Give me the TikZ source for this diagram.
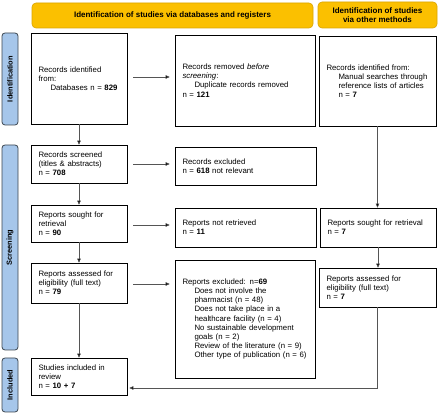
\documentclass[tikz,border=0pt]{standalone}
\usepackage{fontspec}
\setmainfont{Liberation Sans}
\usetikzlibrary{arrows.meta}
\definecolor{hdr}{HTML}{FBC000}
\definecolor{hdrline}{HTML}{D9A400}
\definecolor{side}{HTML}{A6C6EA}
\definecolor{sideline}{HTML}{3C4650}
\definecolor{arrline}{HTML}{555555}
\begin{document}
\begin{tikzpicture}[x=1pt,y=-1pt,
  every node/.style={font=\fontsize{7.8}{9.2}\selectfont},
  box/.style={draw=black, line width=0.7pt, fill=white, align=left, inner xsep=7.5pt, inner ysep=2pt, anchor=center},
  hdrbox/.style={draw=hdrline, line width=0.6pt, fill=hdr, rounded corners=4pt, align=center, font=\fontsize{8}{9.3}\selectfont\bfseries},
  sidebox/.style={draw=sideline, line width=0.8pt, fill=side, rounded corners=3pt, minimum width=16pt, inner sep=0pt},
  sidetext/.style={rotate=90, font=\fontsize{7.4}{8}\selectfont\bfseries},
  arr/.style={draw=arrline, line width=0.5pt, -{Triangle[length=4pt,width=3.6pt,fill=black]}}
]
\useasboundingbox (0,0) rectangle (440,414);

% headers
\node[hdrbox, minimum width=281pt, minimum height=25pt] (hdrL) at (172.5,15.5) {Identification of studies via databases and registers};
\node[hdrbox, minimum width=119pt, minimum height=26pt] (hdrR) at (377.5,15) {Identification of studies\\via other methods};

% side labels
\node[sidebox, minimum height=92pt] (sideI) at (10,79) {};
\node[sidetext] (sideIt) at (sideI.center) {Identification};
\node[sidebox, minimum height=205pt] (sideS) at (10,247.5) {};
\node[sidetext] (sideSt) at (sideS.center) {Screening};
\node[sidebox, minimum height=54pt] (sideN) at (10,385) {};
\node[sidetext] (sideNt) at (sideN.center) {Included};

% left column
\node[box, minimum width=96pt, minimum height=91pt, text width=81pt] (idDB) at (79,78.5)
  {Records identified\\from:\\\hspace*{12pt}Databases n = \textbf{829}};
\node[box, minimum width=96pt, minimum height=38pt, text width=81pt] (screened) at (79,164)
  {Records screened\\(titles \& abstracts)\\n = \textbf{708}};
\node[box, minimum width=96pt, minimum height=37pt, text width=81pt] (sought) at (79,223.5)
  {Reports sought for\\retrieval\\n = \textbf{90}};
\node[box, minimum width=96pt, minimum height=40pt, text width=81pt] (assessed) at (79,283)
  {Reports assessed for\\eligibility (full text)\\n = \textbf{79}};
\node[box, minimum width=96pt, minimum height=37pt, text width=81pt] (included) at (79,376.5)
  {Studies included in\\review\\n = \textbf{10 + 7}};

% middle column
\node[box, minimum width=140pt, minimum height=91pt, text width=125pt] (removed) at (245,80.5)
  {Records removed \textit{before}\\\textit{screening}:\\\hspace*{12pt}Duplicate records removed\\n = \textbf{121}};
\node[box, minimum width=141pt, minimum height=38pt, text width=126pt] (excluded) at (245.5,166)
  {Records excluded\\n = \textbf{618} not relevant};
\node[box, minimum width=141pt, minimum height=39pt, text width=126pt] (notret) at (245.5,227.5)
  {Reports not retrieved\\n = \textbf{11}};
\node[box, minimum width=140pt, minimum height=118pt, text width=125pt] (exclRep) at (245,319)
  {Reports excluded: n=\textbf{69}\\
   \hspace*{12pt}Does not involve the\\
   \hspace*{12pt}pharmacist (n = 48)\\
   \hspace*{12pt}Does not take place in a\\
   \hspace*{12pt}healthcare facility (n = 4)\\
   \hspace*{12pt}No sustainable development\\
   \hspace*{12pt}goals (n = 2)\\
   \hspace*{12pt}Review of the literature (n = 9)\\
   \hspace*{12pt}Other type of publication (n = 6)};

% right column
\node[box, minimum width=117pt, minimum height=90pt, text width=102pt] (idOther) at (377.5,81)
  {Records identified from:\\\hspace*{12pt}Manual searches through\\\hspace*{12pt}reference lists of articles\\\hspace*{12pt}n = \textbf{7}\\[4pt]};
\node[box, minimum width=116pt, minimum height=39pt, text width=101pt] (soughtO) at (378,227.5)
  {Reports sought for retrieval\\n = \textbf{7}};
\node[box, minimum width=117pt, minimum height=39pt, text width=102pt] (assessedO) at (377.5,287.5)
  {Reports assessed for\\eligibility (full text)\\n = \textbf{7}};

% arrows
\draw[arr, shorten <=6pt, shorten >=5pt] ([yshift=1.5pt]idDB.east) -- ([yshift=1.5pt]idDB.east -| removed.west);
\draw[arr, shorten <=6pt, shorten >=5pt] (screened.east) -- (screened.east -| excluded.west);
\draw[arr, shorten <=6pt, shorten >=5pt] ([yshift=-1.5pt]sought.east) -- ([yshift=-1.5pt]sought.east -| notret.west);
\draw[arr, shorten <=6pt, shorten >=5pt] ([yshift=-1pt]assessed.east) -- ([yshift=-1pt]assessed.east -| exclRep.west);
\draw[arr] (idDB.south) -- (screened.north);
\draw[arr] (screened.south) -- (sought.north);
\draw[arr] (sought.south) -- (assessed.north);
\draw[arr] (assessed.south) -- (included.north);
\draw[arr] (idOther.south) -- (idOther.south |- soughtO.north);
\draw[arr] (soughtO.south) -- (soughtO.south |- assessedO.north);
\draw[arr, shorten >=2pt] (assessedO.south) |- ([yshift=-11.5pt]included.east);
\end{tikzpicture}
\end{document}
